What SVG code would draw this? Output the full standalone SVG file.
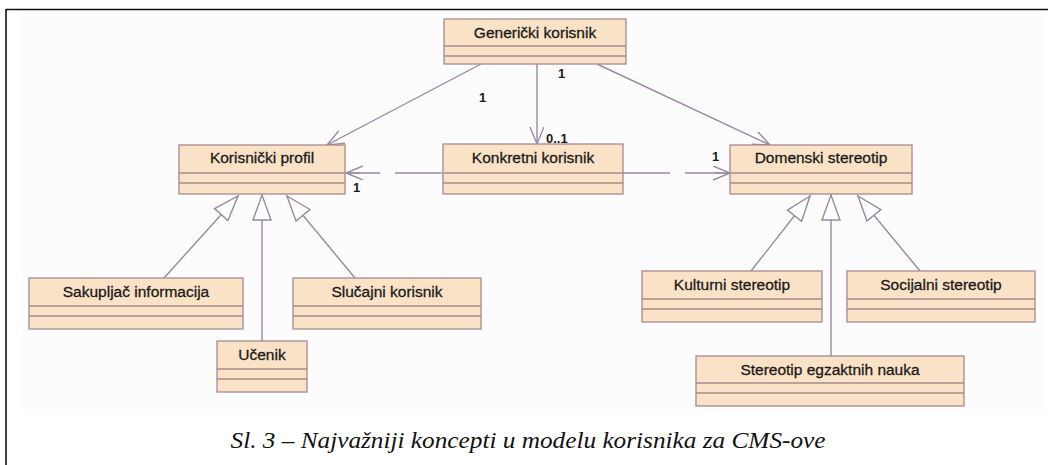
<svg xmlns="http://www.w3.org/2000/svg" width="1048" height="465" viewBox="0 0 1048 465">
<style>
.box{fill:#fae2c6;stroke:#a58b8e;stroke-width:1.3}
.sep{stroke:#a58b8e;stroke-width:1.3}
.nm{font-family:'Liberation Sans',Arimo,Arial,Helvetica,sans-serif;font-size:15.5px;fill:#1a1a1a;stroke:#1a1a1a;stroke-width:0.3;text-anchor:middle}
.lbl{font-family:'Liberation Sans',Arimo,Arial,Helvetica,sans-serif;font-size:13px;font-weight:bold;fill:#1a1a1a}
.con{stroke:#9a88a2;stroke-width:1.4;fill:none}
.cap{font-family:'Liberation Serif',Tinos,'Times New Roman',Times,serif;font-style:italic;font-size:24px;fill:#111;text-anchor:middle}
</style>
<defs>
<marker id="open" markerUnits="userSpaceOnUse" markerWidth="20" markerHeight="16" refX="17" refY="7" orient="auto">
<path d="M0,0 L17,7 L0,14" fill="none" stroke="#9a88a2" stroke-width="1.4"/>
</marker>
<marker id="tri" markerUnits="userSpaceOnUse" markerWidth="30" markerHeight="22" refX="26" refY="10" orient="auto">
<path d="M1,1 L26,10 L1,19 Z" fill="#ffffff" stroke="#9a88a2" stroke-width="1.4"/>
</marker>
</defs>
<rect x="0" y="0" width="1048" height="465" fill="#ffffff"/>
<rect x="22" y="11" width="1022" height="402" fill="#fcfcfc"/>
<path d="M6,9.5 H1048 M6,9 V465" stroke="#111" stroke-width="1.6" fill="none"/>

<g id="connectors">
<line class="con" x1="481" y1="64" x2="327" y2="145" marker-end="url(#open)"/>
<line class="con" x1="537" y1="64" x2="537" y2="144" marker-end="url(#open)"/>
<line class="con" x1="597" y1="64" x2="770" y2="145" marker-end="url(#open)"/>
<path class="con" d="M442,173 H395 M380,173 H348"/>
<line class="con" x1="360" y1="173" x2="346" y2="173" marker-end="url(#open)"/>
<path class="con" d="M623,173 H670 M685,173 H728"/>
<line class="con" x1="715" y1="173" x2="730" y2="173" marker-end="url(#open)"/>
<line class="con" x1="164" y1="278" x2="238" y2="196" marker-end="url(#tri)"/>
<line class="con" x1="262" y1="341" x2="262" y2="195" marker-end="url(#tri)"/>
<line class="con" x1="355" y1="278" x2="287" y2="196" marker-end="url(#tri)"/>
<line class="con" x1="751" y1="271" x2="810" y2="196" marker-end="url(#tri)"/>
<line class="con" x1="831" y1="356" x2="831" y2="195" marker-end="url(#tri)"/>
<line class="con" x1="920" y1="271" x2="858" y2="196" marker-end="url(#tri)"/>
<text class="lbl" x="479" y="102">1</text>
<text class="lbl" x="558" y="78">1</text>
<text class="lbl" x="612" y="56">1</text>
<text class="lbl" x="546" y="143">0..1</text>
<text class="lbl" x="712" y="161">1</text>
<text class="lbl" x="353" y="192">1</text>
</g>

<g id="genericki">
<rect class="box" x="444" y="19" width="182" height="45"/>
<line class="sep" x1="444" y1="46" x2="626" y2="46"/>
<line class="sep" x1="444" y1="56" x2="626" y2="56"/>
<text class="nm" x="535" y="38">Generički korisnik</text>
</g>
<g id="korisnicki-profil">
<rect class="box" x="179" y="145" width="166" height="49"/>
<line class="sep" x1="179" y1="173" x2="345" y2="173"/>
<line class="sep" x1="179" y1="183" x2="345" y2="183"/>
<text class="nm" x="262" y="163">Korisnički profil</text>
</g>
<g id="konkretni">
<rect class="box" x="443" y="144" width="180" height="50"/>
<line class="sep" x1="443" y1="173" x2="623" y2="173"/>
<line class="sep" x1="443" y1="183" x2="623" y2="183"/>
<text class="nm" x="533" y="163">Konkretni korisnik</text>
</g>
<g id="domenski">
<rect class="box" x="730" y="145" width="182" height="49"/>
<line class="sep" x1="730" y1="173" x2="912" y2="173"/>
<line class="sep" x1="730" y1="183" x2="912" y2="183"/>
<text class="nm" x="821" y="163">Domenski stereotip</text>
</g>
<g id="sakupljac">
<rect class="box" x="29" y="278" width="214" height="51"/>
<line class="sep" x1="29" y1="306" x2="243" y2="306"/>
<line class="sep" x1="29" y1="316" x2="243" y2="316"/>
<text class="nm" x="136" y="297">Sakupljač informacija</text>
</g>
<g id="ucenik">
<rect class="box" x="217" y="341" width="90" height="51"/>
<line class="sep" x1="217" y1="369" x2="307" y2="369"/>
<line class="sep" x1="217" y1="379" x2="307" y2="379"/>
<text class="nm" x="262" y="360">Učenik</text>
</g>
<g id="slucajni">
<rect class="box" x="293" y="278" width="188" height="51"/>
<line class="sep" x1="293" y1="306" x2="481" y2="306"/>
<line class="sep" x1="293" y1="316" x2="481" y2="316"/>
<text class="nm" x="387" y="297">Slučajni korisnik</text>
</g>
<g id="kulturni">
<rect class="box" x="642" y="271" width="180" height="51"/>
<line class="sep" x1="642" y1="299" x2="822" y2="299"/>
<line class="sep" x1="642" y1="309" x2="822" y2="309"/>
<text class="nm" x="732" y="290">Kulturni stereotip</text>
</g>
<g id="socijalni">
<rect class="box" x="847" y="271" width="188" height="51"/>
<line class="sep" x1="847" y1="299" x2="1035" y2="299"/>
<line class="sep" x1="847" y1="309" x2="1035" y2="309"/>
<text class="nm" x="941" y="290">Socijalni stereotip</text>
</g>
<g id="egzaktne">
<rect class="box" x="696" y="356" width="268" height="50"/>
<line class="sep" x1="696" y1="383" x2="964" y2="383"/>
<line class="sep" x1="696" y1="393" x2="964" y2="393"/>
<text class="nm" x="830" y="375">Stereotip egzaktnih nauka</text>
</g>
<text class="cap" x="528" y="448" textLength="595" lengthAdjust="spacingAndGlyphs">Sl. 3 – Najvažniji koncepti u modelu korisnika za CMS-ove</text>
</svg>
